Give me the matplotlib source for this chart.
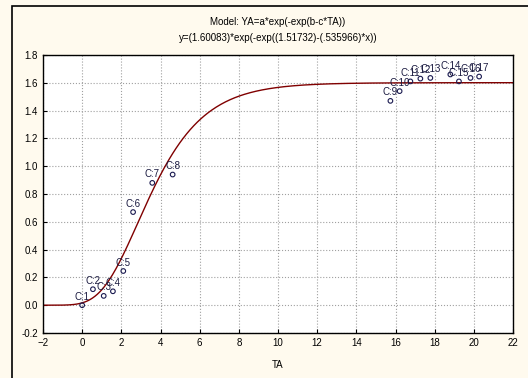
import numpy as np
import matplotlib
matplotlib.use("Agg")
import matplotlib.pyplot as plt
from matplotlib.patches import Rectangle

plt.rcParams['font.family'] = ['Liberation Sans', 'DejaVu Sans']

case_labels = ["C:%d" % i for i in range(1, 18)]
ta = [0.0, 0.55, 1.1, 1.57, 2.1, 2.6, 3.58, 4.62,
      15.74, 16.21, 16.76, 17.27, 17.78, 18.8, 19.24, 19.83, 20.27]
ya = [0.0, 0.115, 0.067, 0.10, 0.246, 0.67, 0.88, 0.94,
      1.47, 1.54, 1.61, 1.63, 1.635, 1.66, 1.61, 1.635, 1.645]

# fitted Gompertz parameters from the title
a, b, c = 1.60083, 1.51732, 0.535966
x_ticks = list(range(-2, 23, 2))
y_ticks = [-0.2, 0.0, 0.2, 0.4, 0.6, 0.8, 1.0, 1.2, 1.4, 1.6, 1.8]

fig = plt.figure(figsize=(5.28, 3.78), dpi=100)
fig.patch.set_facecolor('#fffaee')
fig.patches.append(Rectangle((12/528, -0.1), 1.2, (378 - 6)/378 + 0.1,
                             transform=fig.transFigure, fill=False,
                             edgecolor='black', lw=1.2))

ax = fig.add_axes([43/528, 45/378, 470/528, 278/378])
ax.set_facecolor('white')

xx = np.linspace(-2, 22, 400)
ax.plot(xx, a*np.exp(-np.exp(b - c*xx)), color='#800000', lw=1.0, zorder=2)
ax.scatter(ta, ya, s=11, facecolors='none', edgecolors='#1a1a50', lw=0.8, zorder=3)
for lab, x, y in zip(case_labels, ta, ya):
    ax.annotate(lab, (x, y), xytext=(0, 2.5), textcoords='offset points',
                ha='center', va='bottom', fontsize=7, color='#1a1a40', zorder=4)

ax.set_xlim(-2, 22)
ax.set_ylim(-0.2, 1.8)
ax.set_xticks(x_ticks)
ax.set_yticks(y_ticks)
ax.set_yticklabels(["%.1f" % v for v in y_ticks])
ax.tick_params(direction='in', length=3, labelsize=7, width=0.8)
ax.grid(True, color='#a0a0a0', ls=':', lw=0.8)
for s in ax.spines.values():
    s.set_linewidth(1.0)
ax.set_xlabel("TA", fontsize=7, labelpad=9)

fig.text(278/528, 1 - 22/378, "Model: YA=a*exp(-exp(b-c*TA))", ha='center', va='center', fontsize=7)
fig.text(278/528, 1 - 38/378, "y=(1.60083)*exp(-exp((1.51732)-(.535966)*x))", ha='center', va='center', fontsize=7)

fig.savefig("out.png", dpi=100, facecolor=fig.get_facecolor())
